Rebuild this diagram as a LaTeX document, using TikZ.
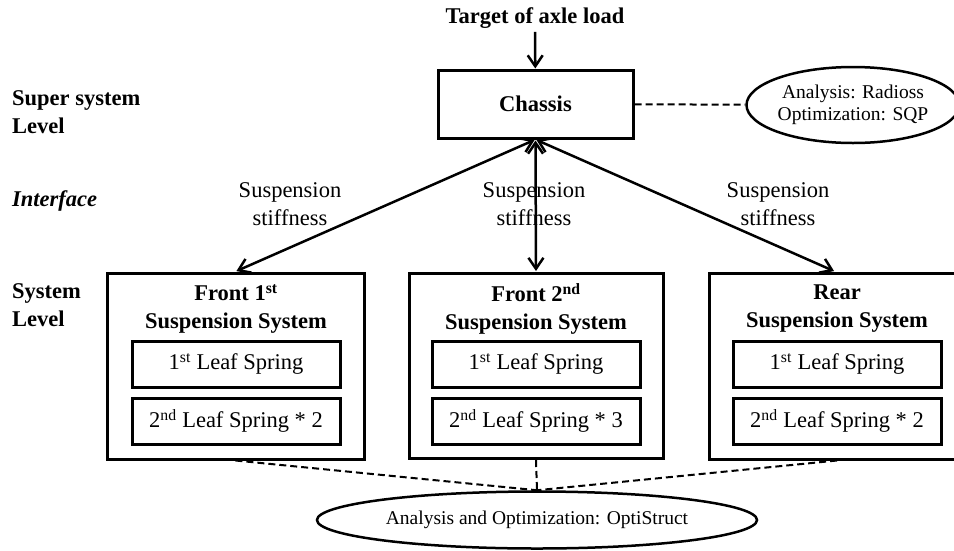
\documentclass[tikz,border=0pt]{standalone}
\usepackage{fontspec}
\setmainfont{Liberation Serif}
\usepackage{tikz}
\usetikzlibrary{shapes}
\usetikzlibrary{positioning}
\usetikzlibrary{arrows.meta}
\tikzstyle{block}=[rectangle, draw=black, line width=3pt, fill=white, inner sep=0pt]
\tikzstyle{tool}=[ellipse, draw=black, line width=2.5pt, fill=white, inner sep=0pt, align=center, font=\fontsize{19.5}{22}\selectfont]
\tikzstyle{txt}=[font=\fontsize{22.5}{28}\selectfont]
\tikzstyle{boldtxt}=[font=\fontsize{22.5}{28}\selectfont\bfseries]
\tikzstyle{level}=[anchor=west, inner sep=0pt, align=left, font=\fontsize{22.5}{28}\selectfont\bfseries]

\begin{document}
\begin{tikzpicture}[x=1pt, y=-1pt, >={Straight Barb[length=11pt,width=15pt]}]
	\useasboundingbox (0,0) rectangle (954,550);
	% levels
	\node (superlvl) at (12,112) [level] {Super system\\Level};
	\node (iface) at (12,201) [level, font=\fontsize{22.5}{28}\selectfont\bfseries\itshape] {Interface};
	\node (syslvl) at (12,305) [level] {System\\Level};
	% super system
	\node (target) at (535,18) [boldtxt] {Target of axle load};
	\node (chassis) at (535.5,104) [block, boldtxt, minimum width=195pt, minimum height=68pt] {Chassis};
	\node (radioss) at (853,105) [tool, minimum width=200pt, minimum height=76pt] {Analysis: Radioss\\Optimization: SQP};
	% systems
	\node (front1) at (235.5,366) [block, minimum width=257pt, minimum height=186pt] {};
	\node (front1t) at (236,309) [boldtxt, align=center] {Front 1\textsuperscript{st}\\Suspension System};
	\node (front1a) at (236,364) [block, txt, minimum width=208pt, minimum height=46pt] {1\textsuperscript{st} Leaf Spring};
	\node (front1b) at (236,421) [block, txt, minimum width=208pt, minimum height=46pt] {2\textsuperscript{nd} Leaf Spring * 2};
	\node (front2) at (536,366) [block, minimum width=254pt, minimum height=185pt] {};
	\node (front2t) at (536,309) [boldtxt, align=center] {Front 2\textsuperscript{nd}\\Suspension System};
	\node (front2a) at (536,364) [block, txt, minimum width=208pt, minimum height=46pt] {1\textsuperscript{st} Leaf Spring};
	\node (front2b) at (536,421) [block, txt, minimum width=208pt, minimum height=46pt] {2\textsuperscript{nd} Leaf Spring * 3};
	\node (rear) at (837,366) [block, minimum width=256pt, minimum height=186pt] {};
	\node (reart) at (837,309) [boldtxt, align=center] {Rear\\Suspension System};
	\node (reara) at (837,364) [block, txt, minimum width=208pt, minimum height=46pt] {1\textsuperscript{st} Leaf Spring};
	\node (rearb) at (837,421) [block, txt, minimum width=208pt, minimum height=46pt] {2\textsuperscript{nd} Leaf Spring * 2};
	\node (optistruct) at (537,520) [tool, minimum width=440pt, minimum height=57pt] {Analysis and Optimization: OptiStruct};
	% interface labels
	\node (stiff1) at (290,204) [txt, align=center] {Suspension\\stiffness};
	\node (stiff2) at (534,204) [txt, align=center] {Suspension\\stiffness};
	\node (stiff3) at (778,204) [txt, align=center] {Suspension\\stiffness};
	% connectors
	\draw[->, line width=2.5pt] (target) -- (chassis);
	\path[<->, line width=2.5pt, shorten >= 1pt, shorten <= 1pt]
		(chassis.south) edge (front1.north)
		(chassis.south) edge (front2.north)
		(chassis.south) edge ([xshift=-2pt]rear.north);
	\path[dash pattern=on 7pt off 4pt, line width=2pt]
		(chassis) edge (radioss)
		(front1.south) edge (optistruct.north)
		(front2.south) edge (optistruct.north)
		(rear.south) edge (optistruct.north);
\end{tikzpicture}
\end{document}
